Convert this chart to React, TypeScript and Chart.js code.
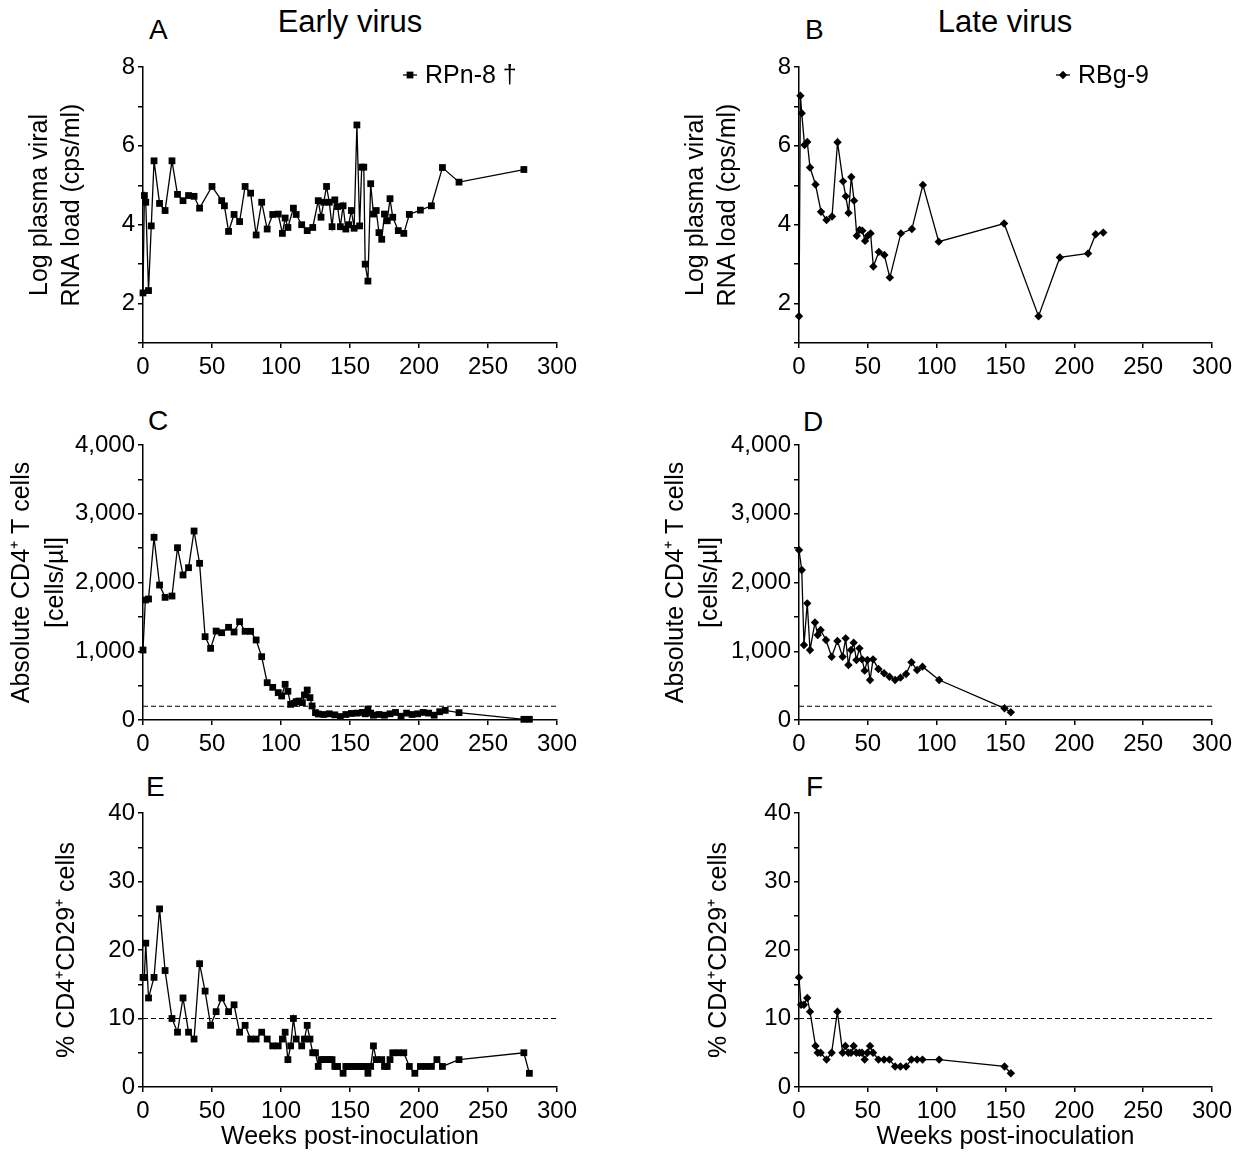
import React, { useEffect, useRef } from "react";
import { Chart, registerables } from "chart.js";
Chart.register(...registerables);

const FONT = '"Liberation Sans", Arial, Helvetica, sans-serif';

// ---------- data ----------
// A: early virus, plasma viral load (log cps/ml)
const weeksA = [0, 1, 2, 4, 6, 8, 12, 16, 21, 25, 29, 33, 37, 41, 50, 57, 59, 62, 66, 70, 74, 78, 82, 86, 90, 94, 98, 101, 103, 105, 109, 111, 115, 119, 123, 127, 129, 131, 133, 135, 137, 139, 141, 143, 145, 147, 149, 151, 153, 155, 157, 158.5, 160, 161, 163, 165, 167, 169, 171, 173, 175, 177, 179, 181, 185, 189, 193, 201, 209, 217, 229, 276];
const loadA = [2.27, 4.74, 4.57, 2.33, 3.97, 5.62, 4.54, 4.36, 5.62, 4.77, 4.61, 4.74, 4.72, 4.42, 4.97, 4.61, 4.48, 3.83, 4.26, 4.08, 4.97, 4.8, 3.74, 4.57, 3.89, 4.26, 4.27, 3.78, 4.17, 3.93, 4.42, 4.26, 4.0, 3.85, 3.93, 4.61, 4.19, 4.57, 4.97, 4.57, 3.95, 4.63, 4.46, 3.95, 4.48, 3.89, 4.0, 4.36, 3.91, 6.53, 3.97, 5.46, 5.46, 3.0, 2.57, 5.04, 4.27, 4.36, 3.8, 3.63, 4.27, 4.1, 4.66, 4.19, 3.85, 3.78, 4.26, 4.37, 4.48, 5.45, 5.08, 5.4];

// B: late virus, plasma viral load (log cps/ml)
const weeksB = [0, 1, 2, 4, 6, 8, 12, 16, 20, 24, 28, 32, 34, 36, 38, 40, 42, 44, 46, 48, 50, 52, 54, 58, 62, 66, 74, 82, 90, 101.5, 149, 174, 189.5, 210, 215.5, 221];
const loadB = [1.68, 7.27, 6.83, 6.02, 6.1, 5.45, 5.02, 4.33, 4.12, 4.21, 6.09, 5.1, 4.72, 4.3, 5.21, 4.61, 3.72, 3.87, 3.85, 3.59, 3.72, 3.78, 2.94, 3.31, 3.23, 2.66, 3.78, 3.89, 5.01, 3.57, 4.03, 1.68, 3.17, 3.27, 3.76, 3.8];

// C: early virus, absolute CD4+ T cells (cells/µl)
const weeksC = [0, 1.7, 4, 8, 12, 16, 21, 25, 29, 33, 37, 41, 45, 49, 53, 57, 62, 66, 70, 74, 78, 82, 86, 90, 94, 98, 100.5, 103, 105, 107, 109.5, 111, 113, 115.5, 117, 119, 121, 122.5, 125, 127, 131, 135, 139, 143, 147, 151, 155, 159, 161, 163, 165, 167, 171, 175, 179, 183, 187, 191, 195, 199, 203, 207, 211, 215, 219, 229, 276, 280];
const cd4C = [1018, 1745, 1760, 2657, 1963, 1784, 1803, 2506, 2109, 2215, 2749, 2279, 1212, 1042, 1294, 1270, 1348, 1280, 1430, 1290, 1290, 1164, 921, 543, 475, 398, 349, 519, 417, 228, 242, 267, 276, 252, 364, 436, 325, 204, 107, 87, 80, 90, 75, 50, 80, 95, 100, 110, 90, 160, 100, 70, 80, 70, 90, 110, 55, 100, 80, 90, 110, 100, 70, 120, 140, 107, 10, 10];

// D: late virus, absolute CD4+ T cells (cells/µl)
const weeksD = [0, 2, 3.6, 6, 8, 11.6, 13.6, 15.7, 19.6, 23.7, 27.9, 31.7, 33.9, 35.9, 37.8, 39.7, 41.7, 43.9, 45.8, 47.7, 49.7, 51.6, 53.8, 57.7, 61.8, 65.7, 69.8, 73.7, 77.8, 81.7, 85.8, 89.7, 101.8, 149.3, 153.9];
const cd4D = [2472, 2182, 1091, 1697, 1018, 1420, 1236, 1309, 1164, 921, 1149, 921, 1188, 800, 1018, 1125, 873, 1042, 882, 718, 873, 582, 882, 742, 679, 630, 582, 616, 669, 839, 727, 776, 582, 170, 112];

// E: early virus, % CD4+CD29+ cells
const weeksE = [0, 1, 2, 4, 8, 12, 16, 21, 25, 29, 33, 37, 41, 45, 49, 53, 57, 62, 66, 70, 74, 78, 82, 86, 90, 94, 98, 101, 103, 105, 107, 109, 111, 115, 117, 119, 121, 123, 125, 127, 129, 131, 133, 135, 137, 139, 141, 145, 147, 149, 151, 153, 155, 157, 159, 161, 163, 165, 167, 169, 173, 175, 177, 179, 181, 185, 189, 193, 197, 201, 205, 209, 213, 217, 229, 276, 280];
const pctE = [16, 16, 21, 13, 16, 26, 17, 10, 8, 13, 8, 7, 18, 14, 9, 11, 13, 11, 12, 8, 9, 7, 7, 8, 7, 6, 6, 7, 8, 4, 6, 10, 7, 6, 7, 9, 7, 5, 5, 3, 4, 4, 4, 4, 4, 3, 3, 2, 3, 3, 3, 3, 3, 3, 3, 3, 2, 3, 6, 4, 4, 3, 3, 4, 5, 5, 5, 3, 2, 3, 3, 3, 4, 3, 4, 5, 2];

// F: late virus, % CD4+CD29+ cells
const weeksF = [0, 1.5, 3.6, 6, 8, 12, 13.6, 15.7, 20, 23.7, 27.9, 31.7, 33.7, 35.9, 37.8, 39.7, 41.7, 43.9, 45.8, 47.7, 49.7, 51.6, 53.8, 57.7, 61.8, 65.7, 69.8, 73.7, 77.8, 81.7, 85.8, 89.7, 101.8, 149.3, 153.9];
const pctF = [16, 12, 12, 13, 11, 6, 5, 5, 4, 5, 11, 5, 6, 5, 5, 6, 5, 5, 5, 4, 5, 6, 5, 4, 4, 4, 3, 3, 3, 4, 4, 4, 4, 3, 2];

const seriesEarly = "RPn-8 †";
const seriesLate = "RBg-9";
const cd4Threshold = 200;
const pctThreshold = 10;

const titleLoad = ["Log plasma viral", "RNA load (cps/ml)"];
const titleCD4 = ["Absolute CD4\u207A T cells", "[cells/µl]"];
const titlePct = "% CD4\u207ACD29\u207A cells";
const titleWeeks = "Weeks post-inoculation";

// ---------- plugin: legend with line + marker ----------
const lineLegend = {
  id: "lineLegend",
  afterDraw(chart: any, _args: any, opts: any) {
    if (!opts || !opts.show) return;
    const { ctx, chartArea } = chart;
    const ds = chart.data.datasets[0];
    const x = chartArea.left + opts.dx;
    const y = chartArea.top + opts.dy;
    ctx.save();
    ctx.strokeStyle = "#000";
    ctx.lineWidth = 1.3;
    ctx.beginPath();
    ctx.moveTo(x - 7, y);
    ctx.lineTo(x + 7, y);
    ctx.stroke();
    ctx.fillStyle = "#000";
    ctx.beginPath();
    if (ds.pointStyle === "rect") {
      const s = ds.pointRadius * Math.SQRT1_2;
      ctx.rect(x - s, y - s, 2 * s, 2 * s);
    } else {
      const r = ds.pointRadius;
      ctx.moveTo(x - r, y);
      ctx.lineTo(x, y - r);
      ctx.lineTo(x + r, y);
      ctx.lineTo(x, y + r);
      ctx.closePath();
    }
    ctx.fill();
    ctx.font = `25px ${FONT}`;
    ctx.textBaseline = "middle";
    ctx.textAlign = "left";
    ctx.fillText(ds.label, x + 15, y + 1);
    ctx.restore();
  },
};

type Spec = {
  left: number; top: number; width: number; height: number;
  yW: number; xH: number; padTop: number; padRight: number;
  weeks: number[]; values: number[]; label: string;
  marker: "rect" | "rectRot"; radius: number;
  yMin: number; yMax: number; yStep: number; yEvery: number; comma?: boolean;
  yTitle: string | string[]; yTitlePad: number; yTitleLH: number;
  xTitle?: string; threshold?: number; legend?: { dx: number; dy: number };
};

function buildConfig(s: Spec): any {
  const datasets: any[] = [
    {
      label: s.label,
      data: s.weeks.map((w, i) => ({ x: w, y: s.values[i] })),
      borderColor: "#000",
      borderWidth: 1.3,
      pointStyle: s.marker,
      pointRadius: s.radius,
      pointBackgroundColor: "#000",
      pointBorderColor: "#000",
      pointBorderWidth: 0,
      tension: 0,
      clip: false,
    },
  ];
  if (s.threshold !== undefined) {
    datasets.push({
      label: "threshold",
      data: [{ x: 0, y: s.threshold }, { x: 300, y: s.threshold }],
      borderColor: "#000",
      borderWidth: 1.1,
      borderDash: [5, 3],
      pointRadius: 0,
      tension: 0,
    });
  }
  const tickFont = { family: FONT, size: 24 };
  return {
    type: "line",
    data: { datasets },
    options: {
      responsive: false,
      animation: false,
      events: [],
      layout: { padding: { top: s.padTop, right: s.padRight, left: 0, bottom: 0 } },
      plugins: {
        legend: { display: false },
        tooltip: { enabled: false },
        lineLegend: s.legend ? { show: true, ...s.legend } : { show: false },
      },
      scales: {
        x: {
          type: "linear",
          min: 0,
          max: 300,
          afterFit: (sc: any) => { sc.height = s.xH; },
          ticks: { stepSize: 50, font: tickFont, color: "#000", padding: 5, autoSkip: false, maxRotation: 0 },
          grid: { drawOnChartArea: false, color: "#000", tickLength: 5, lineWidth: 1.5 },
          border: { color: "#000", width: 1.5 },
          title: s.xTitle
            ? { display: true, text: s.xTitle, color: "#000", font: { family: FONT, size: 25, lineHeight: 1.2 }, padding: { top: 0, bottom: 0 } }
            : { display: false },
        },
        y: {
          type: "linear",
          min: s.yMin,
          max: s.yMax,
          afterFit: (sc: any) => { sc.width = s.yW; },
          ticks: {
            stepSize: s.yStep,
            autoSkip: false,
            font: tickFont,
            color: "#000",
            padding: 3,
            callback: (v: number) =>
              Math.abs(v % s.yEvery) < 1e-9 ? (s.comma ? v.toLocaleString("en-US") : String(v)) : "",
          },
          grid: { drawOnChartArea: false, color: "#000", tickLength: 5, lineWidth: 1.5 },
          border: { color: "#000", width: 1.5 },
          title: {
            display: true,
            text: s.yTitle,
            color: "#000",
            font: { family: FONT, size: 25, lineHeight: s.yTitleLH },
            padding: { top: s.yTitlePad, bottom: 0 },
          },
        },
      },
    },
    plugins: [lineLegend],
  };
}

function Panel({ spec }: { spec: Spec }) {
  const ref = useRef<HTMLCanvasElement>(null);
  useEffect(() => {
    const chart = new Chart(ref.current as HTMLCanvasElement, buildConfig(spec));
    return () => chart.destroy();
  }, [spec]);
  return (
    <canvas
      ref={ref}
      width={spec.width}
      height={spec.height}
      style={{ position: "absolute", left: spec.left, top: spec.top, width: spec.width, height: spec.height }}
    />
  );
}

const LEFT_X = 0;
const RIGHT_X = 640;

const specs: Spec[] = [
  {
    left: LEFT_X, top: 42, width: 582, height: 341, yW: 143, xH: 40, padTop: 25, padRight: 25,
    weeks: weeksA, values: loadA, label: seriesEarly, marker: "rect", radius: 4.8,
    yMin: 1, yMax: 8, yStep: 1, yEvery: 2, yTitle: titleLoad, yTitlePad: 24, yTitleLH: 1.28,
    legend: { dx: 267, dy: 8 },
  },
  {
    left: RIGHT_X, top: 42, width: 597, height: 341, yW: 159, xH: 40, padTop: 25, padRight: 25,
    weeks: weeksB, values: loadB, label: seriesLate, marker: "rectRot", radius: 4.2,
    yMin: 1, yMax: 8, yStep: 1, yEvery: 2, yTitle: titleLoad, yTitlePad: 40, yTitleLH: 1.28,
    legend: { dx: 264, dy: 8 },
  },
  {
    left: LEFT_X, top: 420, width: 582, height: 340, yW: 143, xH: 40, padTop: 25, padRight: 25,
    weeks: weeksC, values: cd4C, label: seriesEarly, marker: "rect", radius: 4.8,
    yMin: 0, yMax: 4000, yStep: 500, yEvery: 1000, comma: true, yTitle: titleCD4, yTitlePad: 5, yTitleLH: 1.35,
    threshold: cd4Threshold,
  },
  {
    left: RIGHT_X, top: 420, width: 597, height: 340, yW: 159, xH: 40, padTop: 25, padRight: 25,
    weeks: weeksD, values: cd4D, label: seriesLate, marker: "rectRot", radius: 4.2,
    yMin: 0, yMax: 4000, yStep: 500, yEvery: 1000, comma: true, yTitle: titleCD4, yTitlePad: 19, yTitleLH: 1.35,
    threshold: cd4Threshold,
  },
  {
    left: LEFT_X, top: 788, width: 582, height: 364, yW: 143, xH: 65, padTop: 25, padRight: 25,
    weeks: weeksE, values: pctE, label: seriesEarly, marker: "rect", radius: 4.8,
    yMin: 0, yMax: 40, yStep: 5, yEvery: 10, yTitle: titlePct, yTitlePad: 50, yTitleLH: 1.35,
    xTitle: titleWeeks, threshold: pctThreshold,
  },
  {
    left: RIGHT_X, top: 788, width: 597, height: 364, yW: 159, xH: 65, padTop: 25, padRight: 25,
    weeks: weeksF, values: pctF, label: seriesLate, marker: "rectRot", radius: 4.2,
    yMin: 0, yMax: 40, yStep: 5, yEvery: 10, yTitle: titlePct, yTitlePad: 62, yTitleLH: 1.35,
    xTitle: titleWeeks, threshold: pctThreshold,
  },
];

const headings = [
  { text: "Early virus", x: 350, top: 6 },
  { text: "Late virus", x: 1005, top: 6 },
];
const letters = [
  { text: "A", x: 149, top: 16 },
  { text: "B", x: 805, top: 16 },
  { text: "C", x: 148, top: 407 },
  { text: "D", x: 803, top: 408 },
  { text: "E", x: 146, top: 773 },
  { text: "F", x: 806, top: 773 },
];

export default function App() {
  return (
    <div style={{ position: "absolute", left: 0, top: 0, width: 1238, height: 1152, background: "#fff", fontFamily: FONT, color: "#000" }}>
      {headings.map((h) => (
        <div key={h.text} style={{ position: "absolute", left: h.x, top: h.top, transform: "translateX(-50%)", fontSize: 31, lineHeight: 1, whiteSpace: "nowrap" }}>
          {h.text}
        </div>
      ))}
      {letters.map((l) => (
        <div key={l.text} style={{ position: "absolute", left: l.x, top: l.top, fontSize: 28, lineHeight: 1 }}>
          {l.text}
        </div>
      ))}
      {specs.map((s, i) => (
        <Panel key={i} spec={s} />
      ))}
    </div>
  );
}
